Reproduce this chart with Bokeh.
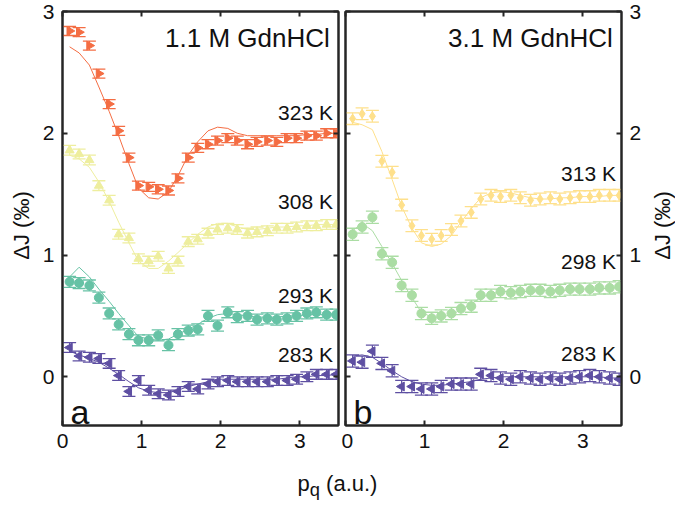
import numpy as np
from bokeh.plotting import figure
from bokeh.models import (Range1d, LinearAxis, FixedTicker, Label, Whisker,
                          TeeHead, ColumnDataSource, Div, CustomJSTickFormatter)
from bokeh.layouts import row, column
from bokeh.embed import file_html
from bokeh.resources import INLINE

# ---------------- data ----------------
q = [0.09, 0.21, 0.34, 0.46, 0.59, 0.71, 0.84, 0.96, 1.09, 1.21, 1.34, 1.46, 1.59, 1.71,
     1.84, 1.96, 2.09, 2.21, 2.34, 2.46, 2.59, 2.71, 2.84, 2.96, 3.09, 3.21, 3.34, 3.46]

# panel a : 1.1 M GdnHCl
a323 = [2.84, 2.83, 2.72, 2.49, 2.24, 2.02, 1.80, 1.57, 1.56, 1.54, 1.53, 1.63, 1.80, 1.88,
        1.91, 1.94, 1.96, 1.94, 1.91, 1.93, 1.94, 1.93, 1.96, 1.96, 1.98, 1.98, 2.00, 2.00]
a323_fit = [2.71, 2.66, 2.56, 2.38, 2.18, 1.98, 1.75, 1.55, 1.47, 1.46, 1.52, 1.65, 1.82, 1.93,
            2.02, 2.05, 2.04, 2.00, 1.98, 1.98, 1.98, 1.98, 1.98, 1.98, 1.99, 1.99, 2.00, 2.00]
a308 = [1.86, 1.83, 1.78, 1.57, 1.45, 1.17, 1.14, 0.97, 0.95, 0.99, 0.89, 0.95, 1.11, 1.13,
        1.18, 1.21, 1.22, 1.21, 1.18, 1.19, 1.20, 1.22, 1.22, 1.23, 1.24, 1.24, 1.25, 1.25]
a308_fit = [1.82, 1.79, 1.72, 1.60, 1.44, 1.27, 1.10, 0.95, 0.89, 0.89, 0.95, 1.02, 1.10, 1.17,
            1.23, 1.26, 1.26, 1.23, 1.21, 1.21, 1.22, 1.23, 1.23, 1.24, 1.24, 1.25, 1.25, 1.25]
a293 = [0.78, 0.77, 0.75, 0.65, 0.52, 0.43, 0.35, 0.30, 0.30, 0.34, 0.26, 0.35, 0.38, 0.39,
        0.50, 0.42, 0.53, 0.49, 0.50, 0.47, 0.48, 0.47, 0.48, 0.50, 0.52, 0.53, 0.51, 0.51]
a293_fit = [0.82, 0.90, 0.82, 0.72, 0.62, 0.52, 0.42, 0.33, 0.31, 0.30, 0.31, 0.35, 0.39, 0.43,
            0.48, 0.51, 0.52, 0.51, 0.50, 0.49, 0.49, 0.49, 0.50, 0.50, 0.51, 0.51, 0.51, 0.52]
a283 = [0.24, 0.17, 0.16, 0.15, 0.11, 0.01, -0.12, -0.03, -0.11, -0.14, -0.15, -0.12, -0.08, -0.10,
        -0.06, -0.04, -0.03, -0.04, -0.04, -0.04, -0.04, -0.03, -0.03, -0.02, 0.00, 0.02, 0.02, 0.02]
a283_fit = [0.21, 0.18, 0.15, 0.12, 0.07, 0.02, -0.04, -0.09, -0.12, -0.13, -0.13, -0.11, -0.08, -0.06,
            -0.04, -0.02, -0.02, -0.02, -0.02, -0.02, -0.02, -0.02, -0.01, 0.00, 0.00, 0.01, 0.01, 0.02]

# panel b : 3.1 M GdnHCl
b313 = [2.12, 2.16, 2.14, 1.77, 1.68, 1.41, 1.24, 1.16, 1.13, 1.16, 1.21, 1.28, 1.35, 1.46,
        1.49, 1.48, 1.49, 1.47, 1.45, 1.46, 1.47, 1.46, 1.47, 1.48, 1.48, 1.49, 1.49, 1.49]
b313_fit = [2.09, 2.07, 2.03, 1.85, 1.62, 1.40, 1.22, 1.10, 1.07, 1.09, 1.16, 1.27, 1.38, 1.47,
            1.51, 1.52, 1.51, 1.49, 1.47, 1.46, 1.46, 1.47, 1.47, 1.48, 1.48, 1.48, 1.49, 1.49]
b298 = [1.17, 1.23, 1.31, 1.01, 0.94, 0.75, 0.67, 0.52, 0.48, 0.50, 0.52, 0.56, 0.58, 0.67,
        0.67, 0.70, 0.69, 0.70, 0.71, 0.71, 0.70, 0.71, 0.72, 0.72, 0.72, 0.73, 0.73, 0.74]
b298_fit = [1.20, 1.26, 1.20, 1.07, 0.93, 0.79, 0.65, 0.53, 0.49, 0.49, 0.51, 0.55, 0.60, 0.65,
            0.68, 0.70, 0.70, 0.70, 0.70, 0.71, 0.71, 0.71, 0.71, 0.72, 0.72, 0.72, 0.73, 0.73]
b283 = [0.13, 0.12, 0.21, 0.11, 0.05, -0.08, -0.08, -0.10, -0.10, -0.08, -0.06, -0.06, -0.06, 0.02,
        0.01, -0.01, -0.02, 0.00, -0.01, -0.02, -0.01, -0.02, -0.01, 0.00, 0.01, 0.00, -0.01, -0.02]
b283_fit = [0.17, 0.18, 0.16, 0.11, 0.05, 0.00, -0.04, -0.06, -0.07, -0.07, -0.06, -0.05, -0.04, -0.02,
            -0.01, 0.00, 0.00, 0.00, 0.00, 0.00, 0.00, 0.00, 0.00, 0.00, 0.00, 0.00, -0.01, -0.01]

err_a = [0.037, 0.040, 0.045, 0.040]
err_b = [0.048, 0.050, 0.050]

labels_a = ["323 K", "308 K", "293 K", "283 K"]
labels_b = ["313 K", "298 K", "283 K"]
label_y_a = [2.17, 1.44, 0.67, 0.18]
label_y_b = [1.67, 0.95, 0.19]

y_ticks = [0, 1, 2, 3]
x_ticks = [0, 1, 2, 3]

# ---------------- style ----------------
FONT = "Liberation Sans"
AX = "#262626"
TXT = "#111111"
H = 468  # canvas height of every figure in the row

R = -np.pi / 2
L = np.pi / 2


def make_panel(side, series, title, letter, labels, label_y):
    p = figure(frame_width=276, frame_height=414,
               x_range=Range1d(0, 3.49), y_range=Range1d(-0.40, 3.0),
               output_backend="svg", toolbar_location=None,
               y_axis_location=side,
               min_border_left=26 if side == "left" else 4,
               min_border_right=3 if side == "left" else 24,
               min_border_top=11, min_border_bottom=43)
    p.xgrid.visible = False
    p.ygrid.visible = False
    p.outline_line_color = AX
    p.outline_line_width = 2
    p.background_fill_color = "white"
    p.border_fill_color = "white"

    def style(ax, labels_on):
        ax.ticker = FixedTicker(ticks=x_ticks if ax.dimension == 0 else y_ticks)
        ax.major_tick_in = 5
        ax.major_tick_out = 0
        ax.minor_tick_line_color = None
        ax.major_tick_line_color = AX
        ax.major_tick_line_width = 2
        ax.axis_line_color = AX
        ax.axis_line_width = 2
        ax.major_label_text_font = FONT
        ax.major_label_text_color = TXT
        if labels_on:
            ax.major_label_text_font_size = "21px"
            ax.major_label_standoff = 8
        else:
            ax.formatter = CustomJSTickFormatter(code="return ''")
            ax.major_label_standoff = 0

    style(p.xaxis[0], True)
    style(p.yaxis[0], True)

    top = LinearAxis()
    style(top, False)
    p.add_layout(top, "above")
    other = LinearAxis()
    style(other, False)
    p.add_layout(other, "right" if side == "left" else "left")

    for (vals, fit, color, marker, angle, err) in series:
        src = ColumnDataSource(dict(x=q, y=vals,
                                    lo=[v - err for v in vals],
                                    hi=[v + err for v in vals]))
        p.line(q, fit, line_color=color, line_width=1)
        w = Whisker(base="x", lower="lo", upper="hi", source=src, dimension="height",
                    line_color=color, line_width=1.2,
                    upper_head=TeeHead(size=13, line_color=color, line_width=1.3),
                    lower_head=TeeHead(size=13, line_color=color, line_width=1.3))
        p.add_layout(w)
        p.scatter("x", "y", source=src, marker=marker, angle=angle, size=9,
                  fill_color=color, line_color=color)

    p.add_layout(Label(x=3.38, y=2.78, text=title, text_align="right",
                       text_baseline="middle", text_font=FONT,
                       text_font_size="26px", text_color=TXT))
    p.add_layout(Label(x=0.10, y=-0.29, text=letter, text_align="left",
                       text_baseline="alphabetic", text_font=FONT,
                       text_font_size="34px", text_color=TXT))
    for t, yy in zip(labels, label_y):
        p.add_layout(Label(x=3.42, y=yy, text=t, text_align="right",
                           text_baseline="middle", text_font=FONT,
                           text_font_size="21px", text_color=TXT))
    return p


def ylabel_fig(w, cx):
    f = figure(width=w, height=H, output_backend="svg", toolbar_location=None,
               x_axis_location=None, y_axis_location=None,
               x_range=Range1d(0, 1), y_range=Range1d(0, 1),
               min_border_left=0, min_border_right=0,
               min_border_top=0, min_border_bottom=0)
    f.outline_line_color = None
    f.xgrid.visible = False
    f.ygrid.visible = False
    f.add_layout(Label(x=cx, y=200, x_units="screen", y_units="screen",
                       text="\u0394J (\u2030)", angle=np.pi / 2,
                       text_align="center", text_baseline="middle",
                       text_font=FONT, text_font_size="22px", text_color=TXT))
    return f


series_a = [
    (a323, a323_fit, "#F46D43", "triangle", R, err_a[0]),
    (a308, a308_fit, "#EEEE9E", "triangle", 0.0, err_a[1]),
    (a293, a293_fit, "#66C2A5", "circle", 0.0, err_a[2]),
    (a283, a283_fit, "#5E4FA2", "triangle", L, err_a[3]),
]
series_b = [
    (b313, b313_fit, "#FEE08B", "diamond", 0.0, err_b[0]),
    (b298, b298_fit, "#ABDDA4", "circle", 0.0, err_b[1]),
    (b283, b283_fit, "#5E4FA2", "triangle", L, err_b[2]),
]

pa = make_panel("left", series_a, "1.1 M GdnHCl", "a", labels_a, label_y_a)
pb = make_panel("right", series_b, "3.1 M GdnHCl", "b", labels_b, label_y_b)
ly = ylabel_fig(36, 21)
ry = ylabel_fig(30, 17)

xlabel = Div(text="p<sub>q</sub> (a.u.)", width=675, height=34, margin=(0, 0, 0, 0),
             styles={"text-align": "center", "font-family": FONT,
                     "font-size": "22px", "color": TXT, "width": "675px"})

layout = column(row(ly, pa, pb, ry), xlabel)

open("out.html", "w").write(file_html(layout, INLINE))
